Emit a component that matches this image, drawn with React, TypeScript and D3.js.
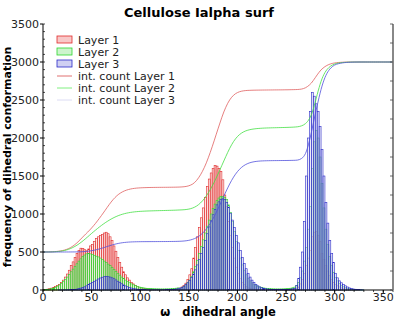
import React from 'react';
import * as d3 from 'd3';

// histogram counts, 2 degree bins from 0 to 360
const binWidth = 2;

const layer1 = [
  5, 8, 12, 20, 25, 35, 45, 60, 75, 100,
  130, 170, 210, 260, 320, 370, 430, 480, 520, 550,
  545, 530, 515, 540, 580, 600, 640, 680, 700, 720,
  730, 750, 760, 740, 700, 650, 580, 510, 430, 360,
  300, 240, 200, 160, 130, 100, 80, 60, 45, 35,
  28, 22, 18, 15, 12,
  10, 8, 8, 6, 6, 5, 5, 5, 5, 6, 6, 8, 10, 12, 15,
  25, 40, 60, 90, 140, 200, 280, 420, 560, 700,
  820, 950, 1080, 1220, 1360, 1460, 1540, 1600, 1640, 1630,
  1600, 1560, 1450, 1250, 1100, 900, 720, 560, 420, 300,
  220, 150, 100, 70, 45, 28, 20, 15, 12, 10,
  8, 8, 7, 7, 6, 6, 6, 5, 5, 5, 5, 5, 6, 6, 7, 8, 10, 12, 15, 18,
  20, 40, 80, 140, 220, 320, 420, 520, 700, 760,
  770, 720, 640, 480, 400, 320, 250, 190, 140, 100,
  75, 55, 40, 28, 20, 14, 10, 7, 5, 3, 2, 1, 1, 0, 0,
  0, 0, 0, 0, 0, 0, 0, 0, 0, 0, 0, 0, 0, 0, 0,
];

const layer2 = [
  3, 5, 8, 12, 18, 25, 35, 50, 65, 85,
  110, 140, 170, 205, 240, 275, 310, 345, 380, 410,
  440, 460, 475, 480, 475, 465, 455, 445, 435, 420,
  400, 380, 360, 340, 320, 295, 270, 245, 220, 195,
  170, 150, 130, 112, 95, 80, 68, 57, 48, 40,
  34, 29, 25, 22, 20,
  18, 17, 16, 15, 15, 14, 14, 14, 15, 15, 16, 18, 20, 24, 28,
  20, 30, 45, 65, 95, 130, 180, 240, 310, 390,
  480, 570, 660, 750, 840, 920, 1000, 1070, 1130, 1180,
  1210, 1230, 1230, 1220, 1190, 1120, 1020, 900, 770, 640,
  520, 420, 330, 260, 200, 155, 120, 95, 75, 60,
  48, 40, 33, 28, 24, 20, 18, 16, 15, 14, 14, 14, 14, 15, 16, 18, 20, 24, 30, 38,
  60, 100, 160, 250, 380, 560, 800, 1100, 1600, 1950,
  2100, 2000, 1750, 1400, 1080, 800, 600, 440, 320, 230,
  165, 120, 85, 60, 42, 30, 22, 16, 11, 8, 6, 4, 3, 2, 1,
  0, 0, 0, 0, 0, 0, 0, 0, 0, 0, 0, 0, 0, 0, 0,
];

const layer3 = [
  0, 0, 0, 0, 0, 0, 0, 0, 1, 1, 1, 2, 2, 3, 4,
  5, 8, 12, 18, 25, 33, 42, 55, 70, 85,
  100, 115, 130, 145, 158, 168, 175, 178, 175, 170,
  160, 148, 132, 115, 98, 82, 67, 54, 43, 34,
  26, 20, 15, 11, 8, 6, 5, 4, 3, 3,
  3, 3, 3, 3, 3, 3, 3, 3, 4, 5, 6, 8, 10, 13, 17,
  25, 35, 50, 70, 95, 125, 165, 210, 265, 330,
  400, 480, 560, 650, 740, 830, 910, 990, 1060, 1120,
  1160, 1190, 1200, 1190, 1150, 1090, 1010, 920, 820, 720,
  620, 520, 430, 350, 280, 220, 170, 130, 100, 75,
  55, 40, 30, 22, 17, 13, 10, 8, 7, 6, 5, 5, 5, 5, 6, 7, 9, 12, 16, 22,
  60, 150, 300, 500, 900, 1500, 2000, 2350, 2600, 2550,
  2450, 2350, 2150, 1850, 1500, 1150, 880, 650, 480, 360,
  220, 160, 120, 95, 75, 55, 40, 28, 20, 14, 10, 7, 5, 3, 2,
  0, 0, 0, 0, 0, 0, 0, 0, 0, 0, 0, 0, 0, 0, 0,
];

const layerNames = ['Layer 1', 'Layer 2', 'Layer 3'];
const xTicks = [0, 50, 100, 150, 200, 250, 300, 350];
const yTicks = [0, 500, 1000, 1500, 2000, 2500, 3000, 3500];

// int. count curves run from 500 up to 3000
const cumStart = 500;
const cumEnd = 3000;

const styles = [
  { stroke: '#e02a2a', fill: '#f8c8c8', line: '#e06060', legendLine: '#e07070' },
  { stroke: '#2ed62e', fill: '#cdf4cd', line: '#44e044', legendLine: '#80f080' },
  { stroke: '#2a2ac8', fill: '#d0d0f2', line: '#5252dc', legendLine: '#dcdcf4' },
];

const left = 43, right = 393, top = 24, bottom = 290;

export default function App() {
  const x = d3.scaleLinear().domain([0, 360]).range([left, right]);
  const y = d3.scaleLinear().domain([0, 3500]).range([bottom, top]);
  const layers = [layer1, layer2, layer3];

  const cumLine = d3.line<[number, number]>()
    .x(d => x(d[0]))
    .y(d => y(d[1]))
    .curve(d3.curveMonotoneX);

  const cumPoints = (vals: number[]) => {
    const total = d3.sum(vals);
    let run = 0;
    const pts: [number, number][] = [[0, cumStart]];
    vals.forEach((v, i) => {
      run += v;
      pts.push([(i + 1) * binWidth, cumStart + (cumEnd - cumStart) * run / total]);
    });
    return pts;
  };

  const minorX = d3.range(0, 361, 10);
  const minorY = d3.range(0, 3501, 100);
  const rightTicks = d3.range(0, 3501, 250);
  const font = 'DejaVu Sans, sans-serif';

  return (
    <svg width={409} height={324} style={{ position: 'absolute', left: 0, top: 0, background: '#fff' }}>
      <rect width={409} height={324} fill="#fff" />
      <text x={199} y={17} textAnchor="middle" fontFamily={font} fontWeight="bold" fontSize={13}>
        Cellulose Ialpha surf
      </text>

      {layers.map((vals, li) => (
        <g key={li}>
          {vals.map((v, i) => v > 0 && (
            <rect
              key={i}
              x={x(i * binWidth)}
              y={y(v)}
              width={x(binWidth) - x(0)}
              height={y(0) - y(v)}
              fill={styles[li].fill}
              fillOpacity={0.45}
              stroke={styles[li].stroke}
              strokeWidth={0.6}
            />
          ))}
        </g>
      ))}

      {layers.map((vals, li) => (
        <path key={li} d={cumLine(cumPoints(vals)) || ''} fill="none" stroke={styles[li].line} strokeWidth={0.8} />
      ))}

      {/* left axis */}
      <line x1={left} x2={left} y1={top} y2={bottom} stroke="#000" />
      {minorY.map(v => (
        <line key={v} x1={left} x2={left + 2} y1={y(v)} y2={y(v)} stroke="#000" strokeWidth={0.7} />
      ))}
      {yTicks.map(v => (
        <g key={v}>
          <line x1={left - 3} x2={left} y1={y(v)} y2={y(v)} stroke="#000" />
          <text x={left - 4} y={y(v) + 4} textAnchor="end" fontFamily={font} fontSize={11} fill="#222">{v}</text>
        </g>
      ))}

      {/* bottom axis */}
      <line x1={left} x2={right} y1={bottom} y2={bottom} stroke="#000" />
      {minorX.map(v => (
        <line key={v} x1={x(v)} x2={x(v)} y1={bottom} y2={bottom + 2} stroke="#000" strokeWidth={0.7} />
      ))}
      {xTicks.map(v => (
        <g key={v}>
          <line x1={x(v)} x2={x(v)} y1={bottom} y2={bottom + 3} stroke="#000" />
          <text x={x(v)} y={bottom + 11} textAnchor="middle" fontFamily={font} fontSize={11} fill="#222">{v}</text>
        </g>
      ))}

      {/* right axis */}
      <line x1={right} x2={right} y1={top} y2={bottom} stroke="#888" strokeWidth={2} />
      {rightTicks.map(v => (
        <line key={v} x1={right - 3} x2={right} y1={y(v)} y2={y(v)} stroke="#444" strokeWidth={0.8} />
      ))}

      <text x={218} y={316} textAnchor="middle" fontFamily={font} fontWeight="bold" fontSize={11.5} style={{ whiteSpace: 'pre' }}>
        {'ω   dihedral angle'}
      </text>
      <text
        transform={`translate(11, ${(top + bottom) / 2}) rotate(-90)`}
        textAnchor="middle"
        fontFamily={font}
        fontWeight="bold"
        fontSize={11}
      >
        frequency of dihedral conformation
      </text>

      {/* legend */}
      {layerNames.map((name, i) => (
        <g key={name}>
          <rect x={57} y={36 + i * 12} width={15} height={7} fill={styles[i].fill} stroke={styles[i].stroke} strokeWidth={0.8} />
          <text x={78} y={44 + i * 12} fontFamily={font} fontSize={11} fill="#222">{name}</text>
        </g>
      ))}
      {layerNames.map((name, i) => (
        <g key={'c' + name}>
          <line x1={57} x2={72} y1={76 + i * 12} y2={76 + i * 12} stroke={styles[i].legendLine} strokeWidth={1} />
          <text x={78} y={80 + i * 12} fontFamily={font} fontSize={11} fill="#222">int. count {name}</text>
        </g>
      ))}
    </svg>
  );
}
